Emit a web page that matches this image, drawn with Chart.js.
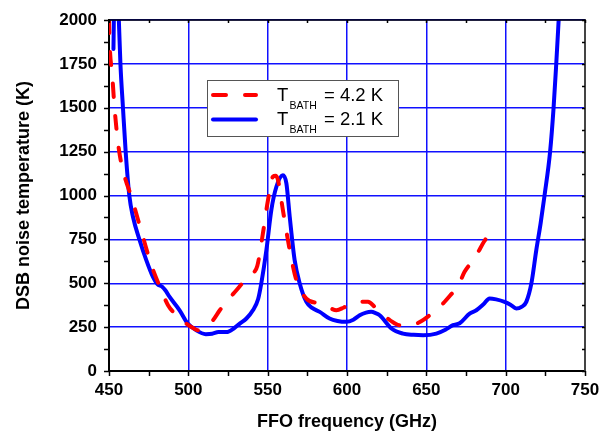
<!DOCTYPE html>
<html>
<head>
<meta charset="utf-8">
<script src="https://cdn.jsdelivr.net/npm/chart.js@4/dist/chart.umd.min.js"></script>
<style>
html,body{margin:0;padding:0;background:#fff;}
#wrap{width:608px;height:434px;position:relative;}
</style>
</head>
<body>
<div id="wrap"><canvas id="c" width="608" height="434"></canvas></div>
<script>
// ---- data ----
const freq42 = [450,450.4,452.1,453.6,456.3,459.9,464.1,466.2,471.4,476.7,483,487.2,492.5,498.8,503,506.1,510,515.5,519.8,525,530.3,536,540.7,543.5,547,550.2,553.3,555,556.5,559.6,563.9,568.1,574.4,582.8,588,593.3,598,602.7,608,613.2,617.5,621.7,627,633.2,641.6,647,652.1,656,660.5,665,670,674.1,678,681.5,686.7,688.5];
const temp42 = [2000,1867,1677,1487,1259,1107,993,928,764,603,460,375,318,270,245,232,245,289,346,405,460,520,556,600,784,974,1107,1112,1088,917,689,517,413,384,365,346,362,384,395,394,365,327,290,261,264,285,318,345,384,430,485,565,615,660,742,765];

const freq21 = [452.8,453.4,455.4,456.2,457.2,458.8,460.5,462.8,465.1,469.3,473.5,477.7,480.5,483.5,485.5,488.2,494.5,499.5,505,511,515,519,524,529,532.4,536.6,540.7,544,546,549.2,552.3,555.5,559.6,561.8,563.9,567,570.2,574.4,578,582.8,589,594,599.6,604,608,612,615.3,618,620.6,628,635.3,642,648,656.3,662,666.8,671,677.3,681.5,686,689.9,694,699.3,703,706.7,710,713,716.2,719.3,722,724.5,728,730.2,731.9,733.4,734];
const temp21 = [1835,2150,2150,2000,1750,1500,1250,1000,879,746,632,536,495,480,460,422,346,272,232,210,212,222,222,245,270,299,346,410,500,689,917,1050,1116,1069,879,632,499,394,360,337,299,285,280,292,318,333,337,330,318,242,213,206,204,213,235,261,272,327,346,380,413,408,394,378,356,365,394,499,689,840,1000,1249,1500,1754,2000,2100];

const xTickValues = [450,500,550,600,650,700,750];
const yTickValues = [0,250,500,750,1000,1250,1500,1750,2000];
const legendSymbol = 'T';
const legendSub = 'BATH';
const legendValues = ['= 4.2 K', '= 2.1 K'];
const xTitle = 'FFO frequency (GHz)';
const yTitle = 'DSB noise temperature (K)';

const toPts = (xs, ys) => xs.map((x, i) => ({x: x, y: ys[i]}));

const FONT = "'Liberation Sans', Arial, sans-serif";

const framePlugin = {
  id: 'frame',
  afterDraw(chart) {
    const ctx = chart.ctx;
    const a = chart.chartArea;
    const xs = chart.scales.x, ys = chart.scales.y;
    ctx.save();
    // top and right axis lines
    ctx.strokeStyle = '#000';
    ctx.lineWidth = 1.5;
    ctx.beginPath(); ctx.moveTo(a.left, a.top); ctx.lineTo(a.right + 1, a.top); ctx.stroke();
    ctx.strokeStyle = '#444';
    ctx.lineWidth = 2;
    ctx.beginPath(); ctx.moveTo(a.right, a.top); ctx.lineTo(a.right, a.bottom + 1); ctx.stroke();
    // tick marks (major + minor)
    ctx.strokeStyle = '#000';
    ctx.lineWidth = 1.5;
    for (let f = xs.min; f <= xs.max + 0.01; f += 25) {
      const px = Math.round(xs.getPixelForValue(f)) + 0.5;
      ctx.beginPath(); ctx.moveTo(px, a.bottom); ctx.lineTo(px, a.bottom + 5); ctx.stroke();
      ctx.beginPath(); ctx.moveTo(px, a.top); ctx.lineTo(px, a.top + 3); ctx.stroke();
    }
    for (let t = ys.min; t <= ys.max + 0.01; t += 125) {
      const py = Math.round(ys.getPixelForValue(t)) + 0.5;
      ctx.beginPath(); ctx.moveTo(a.left - 5, py); ctx.lineTo(a.left, py); ctx.stroke();
      ctx.beginPath(); ctx.moveTo(a.right - 3, py); ctx.lineTo(a.right, py); ctx.stroke();
    }
    // legend
    const bx = 207.5, by = 80.5, bw = 191, bh = 56;
    ctx.fillStyle = '#fff';
    ctx.fillRect(bx, by, bw, bh);
    ctx.strokeStyle = '#555';
    ctx.lineWidth = 1;
    ctx.strokeRect(bx, by, bw, bh);
    const rows = [95, 119.5];
    chart.data.datasets.forEach((ds, i) => {
      const y = rows[i];
      ctx.strokeStyle = ds.borderColor;
      ctx.lineWidth = 4;
      ctx.lineCap = 'round';
      ctx.setLineDash(ds.borderDash || []);
      ctx.beginPath(); ctx.moveTo(213, y); ctx.lineTo(256, y); ctx.stroke();
      ctx.setLineDash([]);
      ctx.fillStyle = '#000';
      ctx.textBaseline = 'alphabetic';
      ctx.textAlign = 'left';
      ctx.font = '18.5px ' + FONT;
      const base = y + 5.5;
      ctx.fillText(legendSymbol, 277, base);
      ctx.font = '10.5px ' + FONT;
      ctx.fillText(legendSub, 289.5, base + 8);
      ctx.font = '18.5px ' + FONT;
      ctx.fillText(legendValues[i], 324, base);
    });
    ctx.restore();
  }
};

const labelIf = list => v => (list.indexOf(v) >= 0 ? String(v) : '');

new Chart(document.getElementById('c'), {
  type: 'line',
  data: {
    datasets: [
      {
        label: legendSymbol + legendSub + ' ' + legendValues[0],
        data: toPts(freq42, temp42),
        borderColor: '#ff0000',
        borderWidth: 4,
        borderDash: [13, 19],
        borderCapStyle: 'round',
        pointRadius: 0,
        cubicInterpolationMode: 'monotone',
        fill: false,
        clip: 0
      },
      {
        label: legendSymbol + legendSub + ' ' + legendValues[1],
        data: toPts(freq21, temp21),
        borderColor: '#0000ff',
        borderWidth: 4,
        borderCapStyle: 'round',
        borderJoinStyle: 'round',
        pointRadius: 0,
        cubicInterpolationMode: 'monotone',
        fill: false,
        clip: 0
      }
    ]
  },
  options: {
    responsive: false,
    animation: false,
    devicePixelRatio: 1,
    layout: {padding: {left: 0, right: 23, top: 20, bottom: 0}},
    plugins: {legend: {display: false}, tooltip: {enabled: false}},
    scales: {
      x: {
        type: 'linear',
        min: xTickValues[0], max: xTickValues[xTickValues.length - 1],
        ticks: {stepSize: 50, autoSkip: false, callback: labelIf(xTickValues), color: '#000', font: {family: FONT, size: 17, weight: 'bold'}, padding: 9, maxRotation: 0},
        grid: {color: '#1010ff', lineWidth: 1.5, drawTicks: false},
        border: {display: true, color: '#000', width: 2},
        title: {display: true, text: xTitle, color: '#000', font: {family: FONT, size: 18, weight: 'bold'}, padding: {top: 0, bottom: 1}},
        afterFit: s => { s.height = 63; s.paddingLeft = 0; s.paddingRight = 0; }
      },
      y: {
        min: yTickValues[0], max: yTickValues[yTickValues.length - 1],
        ticks: {stepSize: 250, autoSkip: false, callback: labelIf(yTickValues), color: '#000', font: {family: FONT, size: 17, weight: 'bold'}, padding: 12},
        grid: {color: '#1010ff', lineWidth: 1.5, drawTicks: false},
        border: {display: true, color: '#000', width: 2},
        title: {display: true, text: yTitle, color: '#000', font: {family: FONT, size: 18, weight: 'bold'}, padding: {top: 13, bottom: 0}},
        afterFit: s => { s.width = 109; s.paddingTop = 0; s.paddingBottom = 0; }
      }
    }
  },
  plugins: [framePlugin]
});
</script>
</body>
</html>
